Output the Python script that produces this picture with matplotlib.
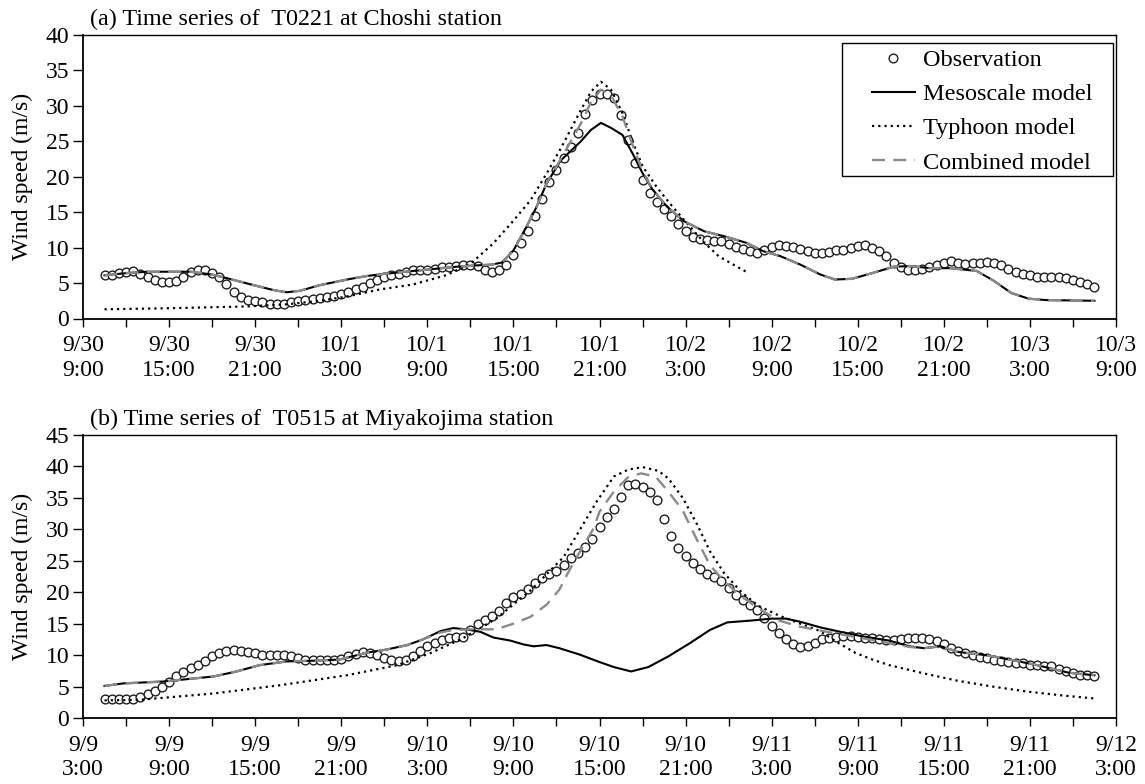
import matplotlib.pyplot as plt
from matplotlib.patches import Rectangle
import numpy as np

plt.rcParams['font.family'] = ['Liberation Serif', 'DejaVu Serif']
plt.rcParams['font.size'] = 17

# ---------------- panel (a): T0221 at Choshi, hours from 9/30 9:00 ----------------
xlabels_a = ['9/30\n9:00', '9/30\n15:00', '9/30\n21:00', '10/1\n3:00', '10/1\n9:00',
             '10/1\n15:00', '10/1\n21:00', '10/2\n3:00', '10/2\n9:00', '10/2\n15:00',
             '10/2\n21:00', '10/3\n3:00', '10/3\n9:00']

# observation, every 30 min from 1.5 h to 70.5 h
obs_a = [6.1, 6.2, 6.4, 6.6, 6.7, 6.3, 5.8, 5.5, 5.2, 5.1,
         5.3, 5.9, 6.5, 6.9, 6.8, 6.4, 5.8, 4.9, 3.8, 3.0,
         2.6, 2.4, 2.3, 2.1, 2.0, 2.1, 2.3, 2.4, 2.6, 2.8,
         2.9, 3.0, 3.2, 3.4, 3.7, 4.1, 4.5, 5.0, 5.5, 5.8,
         6.1, 6.3, 6.6, 6.8, 6.9, 6.9, 7.0, 7.2, 7.3, 7.4,
         7.5, 7.5, 7.4, 6.9, 6.6, 6.9, 7.6, 8.9, 10.7, 12.3,
         14.5, 16.9, 19.2, 21.0, 22.6, 24.2, 26.2, 28.8, 30.8, 31.7,
         31.7, 31.1, 28.7, 25.2, 21.9, 19.6, 17.7, 16.5, 15.4, 14.4,
         13.4, 12.3, 11.5, 11.2, 11.1, 11.0, 10.9, 10.5, 10.1, 9.8,
         9.5, 9.2, 9.7, 10.1, 10.3, 10.2, 10.1, 9.8, 9.5, 9.3,
         9.2, 9.4, 9.6, 9.7, 9.9, 10.2, 10.3, 10.0, 9.5, 8.8,
         7.9, 7.2, 6.8, 6.8, 7.0, 7.3, 7.6, 7.9, 8.1, 7.9,
         7.7, 7.8, 7.9, 8.0, 7.8, 7.5, 7.0, 6.6, 6.3, 6.1,
         5.9, 5.8, 5.8, 5.8, 5.7, 5.4, 5.1, 4.8, 4.4]

meso_a_t = [1.5, 3, 4.5, 6, 7.5, 9, 10.2, 11.9, 13.3, 14.2, 15.1, 16.5, 18.4, 19.8,
            21, 22.5, 24.5, 26, 27.5, 28.5, 29.2, 30, 30.9, 31.6, 32.3, 33.3, 34.7,
            35.4, 36.1, 36.8, 37.6, 38.3, 39.0, 39.7, 40.7, 41.9, 43.3, 44.7, 46.2,
            47.4, 48.6, 50.0, 51.4, 52.4, 53.6, 55.0, 56.5, 57.6, 59.1, 60.5, 62.3,
            63.5, 64.7, 65.9, 67.1, 70.5]
meso_a_v = [6.1, 6.4, 6.6, 6.6, 6.6, 6.2, 5.6, 4.7, 4.0, 3.7, 3.9, 4.7, 5.5, 6.0,
            6.3, 6.6, 7.0, 7.3, 7.5, 7.6, 7.9, 9.6, 12.9, 15.7, 19.0, 22.3, 25.0,
            26.6, 27.6, 26.9, 25.9, 23.3, 20.5, 18.2, 15.8, 13.7, 12.3, 11.6, 10.7,
            9.5, 8.8, 7.6, 6.2, 5.5, 5.6, 6.4, 7.3, 7.4, 7.1, 7.1, 6.7,
            5.3, 3.6, 2.8, 2.6, 2.5]

typh_a_t = [1.5, 6, 11.4, 14.2, 16.5, 18.4, 20.7, 23.0, 25.3, 27.0, 28.6, 30.0, 31.2,
            32.3, 33.3, 34.7, 35.4, 36.1, 36.8, 37.6, 38.3, 39.0, 40.0, 41.0, 41.9,
            43.3, 44.3, 45.5, 46.4]
typh_a_v = [1.3, 1.45, 1.7, 2.0, 2.5, 3.1, 4.1, 4.8, 6.1, 7.7, 10.6, 13.8, 16.7,
            20.4, 24.0, 29.4, 32.0, 33.4, 32.3, 29.0, 25.0, 21.5, 18.5, 16.0, 13.9,
            10.7, 8.8, 7.4, 6.4]

comb_a_t = [1.5, 3, 4.5, 6, 7.5, 9, 10.2, 11.9, 13.3, 14.2, 15.1, 16.5, 18.4, 19.8,
            21, 22.5, 24.5, 26, 27.5, 28.5, 29.2, 30, 30.9, 31.6, 32.3, 33.3, 34.7,
            35.4, 36.1, 36.8, 37.6, 38.3, 39.0, 39.7, 40.7, 41.9, 43.3, 44.7, 46.2,
            47.4, 48.6, 50.0, 51.4, 52.4, 53.6, 55.0, 56.5, 57.6, 59.1, 60.5, 62.3,
            63.5, 64.7, 65.9, 67.1, 70.5]
comb_a_v = [6.1, 6.4, 6.6, 6.6, 6.6, 6.2, 5.6, 4.7, 4.0, 3.7, 3.9, 4.7, 5.5, 6.0,
            6.3, 6.6, 7.0, 7.3, 7.5, 7.6, 7.9, 9.6, 12.9, 15.7, 19.0, 22.5, 27.5,
            30.5, 32.3, 31.5, 28.5, 24.5, 20.8, 18.2, 15.8, 13.7, 12.3, 11.6, 10.7,
            9.5, 8.8, 7.6, 6.2, 5.5, 5.6, 6.4, 7.3, 7.4, 7.1, 7.1, 6.7,
            5.3, 3.6, 2.8, 2.6, 2.5]

# ---------------- panel (b): T0515 at Miyakojima, hours from 9/9 3:00 ----------------
xlabels_b = ['9/9\n3:00', '9/9\n9:00', '9/9\n15:00', '9/9\n21:00', '9/10\n3:00',
             '9/10\n9:00', '9/10\n15:00', '9/10\n21:00', '9/11\n3:00', '9/11\n9:00',
             '9/11\n15:00', '9/11\n21:00', '9/12\n3:00']

obs_b = [3.0, 3.0, 3.1, 3.1, 3.1, 3.3, 3.8, 4.3, 4.9, 5.8,
         6.6, 7.3, 7.9, 8.5, 9.1, 9.8, 10.4, 10.7, 10.8, 10.7,
         10.5, 10.3, 10.0, 10.0, 10.0, 10.0, 9.9, 9.6, 9.3, 9.2,
         9.2, 9.2, 9.2, 9.4, 9.9, 10.2, 10.5, 10.4, 10.0, 9.6,
         9.3, 9.1, 9.2, 9.8, 10.7, 11.4, 11.9, 12.4, 12.7, 12.9,
         12.9, 14.0, 14.9, 15.6, 16.2, 17.0, 18.3, 19.2, 19.7, 20.5,
         21.4, 22.3, 22.9, 23.3, 24.4, 25.4, 26.3, 27.2, 28.5, 30.3,
         32.0, 33.3, 35.2, 37.0, 37.2, 36.7, 36.0, 34.7, 31.7, 28.9,
         27.0, 25.7, 24.6, 23.7, 22.9, 22.4, 21.8, 20.7, 19.6, 18.8,
         18.0, 17.1, 15.9, 14.6, 13.5, 12.5, 11.8, 11.3, 11.4, 12.0,
         12.5, 12.8, 12.9, 13.0, 13.0, 12.9, 12.8, 12.7, 12.5, 12.4,
         12.4, 12.5, 12.7, 12.8, 12.7, 12.5, 12.2, 11.7, 11.1, 10.7,
         10.3, 10.0, 9.7, 9.5, 9.2, 9.0, 8.9, 8.8, 8.7, 8.5,
         8.4, 8.3, 8.2, 7.8, 7.4, 7.1, 6.9, 6.8, 6.7]

meso_b_t = [1.5, 2.8, 5.6, 9.1, 10.7, 12.3, 14.2, 16.0, 17.9, 19.8, 21.2, 22.6, 23.7,
            24.9, 25.8, 26.7, 27.7, 28.6, 29.8, 30.7, 31.4, 32.3, 33.2, 34.6, 36.0,
            37.0, 38.2, 39.4, 40.8, 42.3, 43.7, 44.9, 46.6, 48.0, 49.0, 50.0, 51.4,
            52.8, 54.3, 56.2, 57.6, 58.6, 59.8, 61.0, 62.9, 64.8, 66.5, 68.7, 70.5]
meso_b_v = [5.1, 5.5, 5.8, 6.6, 7.4, 8.4, 9.0, 9.1, 9.3, 10.4, 10.9, 11.6, 12.5,
            13.8, 14.3, 14.1, 13.7, 12.8, 12.3, 11.7, 11.4, 11.6, 11.1, 10.1, 8.9,
            8.1, 7.4, 8.1, 9.8, 11.9, 14.0, 15.2, 15.5, 15.8, 15.8, 15.3, 14.4,
            13.7, 13.0, 12.3, 11.4, 11.1, 11.4, 10.5, 10.0, 9.2, 8.4, 7.2, 6.8]

typh_b_t = [1.5, 4.0, 9.1, 13.7, 18.4, 21.9, 24.2, 26.5, 28.8, 31.2, 33.5, 35.8, 37.0,
            38.0, 39.0, 40.1, 40.8, 41.8, 42.8, 43.7, 44.7, 45.9, 47.1, 48.5, 50.0,
            51.4, 52.6, 53.8, 55.0, 56.2, 58.6, 61.0, 63.4, 65.8, 68.2, 70.5]
typh_b_v = [2.8, 2.9, 3.9, 5.2, 6.8, 8.4, 10.3, 12.7, 15.8, 20.3, 25.6, 34.4, 38.4,
            39.5, 39.9, 39.3, 38.1, 35.0, 30.8, 26.5, 23.0, 20.0, 17.8, 16.3, 15.0,
            13.8, 12.0, 10.4, 9.3, 8.4, 7.1, 5.9, 5.0, 4.2, 3.6, 3.1]

comb_b_t = [1.5, 2.8, 5.6, 9.1, 10.7, 12.3, 14.2, 16.0, 17.9, 19.8, 21.2, 22.6, 23.7,
            24.9, 25.8, 27.0, 28.8, 30.0, 31.2, 32.3, 33.2, 33.9, 34.7, 35.6, 36.0,
            37.0, 38.0, 38.9, 39.9, 40.8, 41.8, 42.8, 43.7, 44.7, 45.9, 47.1, 48.5,
            50.0, 51.4, 53.8, 56.2, 57.6, 58.6, 59.8, 61.0, 62.9, 64.8, 66.5, 68.7, 70.5]
comb_b_v = [5.1, 5.5, 5.8, 6.6, 7.4, 8.4, 9.0, 9.1, 9.3, 10.4, 10.9, 11.6, 12.5,
            13.6, 14.0, 14.1, 14.1, 15.0, 16.1, 18.0, 20.4, 23.5, 26.7, 30.2, 32.8,
            36.0, 38.3, 38.9, 38.4, 36.0, 33.0, 28.3, 24.3, 21.7, 19.3, 17.4, 15.5,
            14.5, 13.9, 12.9, 11.9, 11.3, 11.1, 11.4, 10.5, 10.0, 9.2, 8.4, 7.2, 6.8]

t_obs = np.arange(1.5, 70.51, 0.5)

panels = [
    ('(a) Time series of  T0221 at Choshi station', xlabels_a, 40,
     obs_a, (meso_a_t, meso_a_v), (typh_a_t, typh_a_v), (comb_a_t, comb_a_v)),
    ('(b) Time series of  T0515 at Miyakojima station', xlabels_b, 45,
     obs_b, (meso_b_t, meso_b_v), (typh_b_t, typh_b_v), (comb_b_t, comb_b_v)),
]

fig = plt.figure(figsize=(11.45, 7.84), dpi=100)
W, H = 1145.0, 784.0
boxes = [(83, 35, 318.5), (83, 435, 718)]

for i, (title, xlabels, ymax, obs, meso, typh, comb) in enumerate(panels):
    left, top, bottom = boxes[i]
    ax = fig.add_axes([left / W, 1 - bottom / H, (1116 - left) / W, (bottom - top) / H])

    ax.plot(t_obs, obs, linestyle='none', marker='o', markersize=6.3,
            markerfacecolor='white', markeredgecolor='#1f1f1f', markeredgewidth=1.0,
            label='Observation', zorder=2)
    ax.plot(meso[0], meso[1], color='black', linewidth=1.5, label='Mesoscale model', zorder=3)
    ax.plot(typh[0], typh[1], color='black', linewidth=1.6, linestyle=(0, (1, 1.8)),
            label='Typhoon model', zorder=3)
    ax.plot(comb[0], comb[1], color='#8a8a8a', linewidth=1.7, linestyle=(0, (5.5, 3.5)),
            label='Combined model', zorder=4)

    ax.set_xlim(0, 72)
    ax.set_ylim(0, ymax)
    ax.set_xticks(np.arange(0, 73, 6))
    ax.set_xticklabels(xlabels, linespacing=1.22)
    ax.set_xticks(np.arange(3, 72, 6), minor=True)
    ax.set_yticks(np.arange(0, ymax + 1, 5))
    ax.tick_params(axis='x', which='both', direction='out', length=6, width=1.0, pad=6)
    ax.tick_params(axis='y', direction='out', length=7, width=1.0, pad=3)
    for s in ax.spines.values():
        s.set_linewidth(1.0)
    ax.spines['left'].set_linewidth(1.3)
    ax.spines['bottom'].set_linewidth(1.3)

    ax.set_ylabel('Wind speed (m/s)')
    ax.yaxis.set_label_coords((33 - left) / (1116 - left), 0.5)

    fig.text(90 / W, 1 - (top - 10) / H, title, fontsize=17.4, va='baseline', ha='left')

    if i == 0:
        ax.legend(loc='upper left', bbox_to_anchor=(872 / W, 1 - 49 / H),
                  bbox_transform=fig.transFigure, frameon=False, numpoints=1,
                  handlelength=1.75, handletextpad=0.33, labelspacing=0.5,
                  borderpad=0, borderaxespad=0, fontsize=17.5)
        fig.add_artist(Rectangle((842 / W, 1 - 176 / H), (1113 - 842) / W, 133 / H,
                                 transform=fig.transFigure, fill=False,
                                 edgecolor='black', linewidth=1.0, zorder=5))

fig.savefig('out.png', dpi=100)
